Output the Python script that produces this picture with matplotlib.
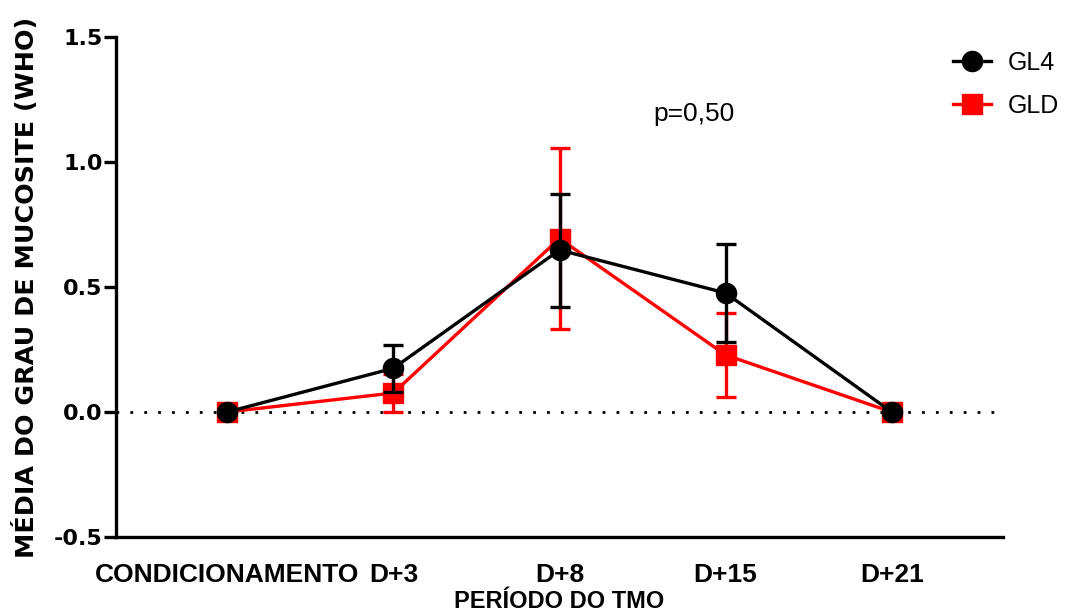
import matplotlib
matplotlib.use("Agg")
import matplotlib.pyplot as plt
from matplotlib.lines import Line2D
import numpy as np

categories = ["CONDICIONAMENTO", "D+3", "D+8", "D+15", "D+21"]
gl4_mean = [0.0, 0.175, 0.648, 0.476, 0.0]
gl4_err = [0.0, 0.095, 0.226, 0.195, 0.0]
gld_mean = [0.0, 0.076, 0.694, 0.228, 0.0]
gld_err = [0.0, 0.076, 0.362, 0.167, 0.0]
yticks = [-0.5, 0.0, 0.5, 1.0, 1.5]
ytick_labels = ["-0.5", "0.0", "0.5", "1.0", "1.5"]

fig = plt.figure(figsize=(10.7, 6.12), dpi=100)
ax = fig.add_axes([116/1070, 1-537/612, (1003-116)/1070, (537-37)/612])

x = np.arange(len(categories))

ax.axhline(0, color="black", lw=2, ls=(0, (1, 4)), zorder=1)

lw = 2.4
ax.errorbar(x, gld_mean, yerr=gld_err, color="#ff0000", marker="s", ms=14.5,
            lw=lw, elinewidth=lw, capsize=7, capthick=lw, zorder=3)
ax.errorbar(x, gl4_mean, yerr=gl4_err, color="black", marker="o", ms=14.5,
            lw=lw, elinewidth=lw, capsize=7, capthick=lw, zorder=4)

ax.set_xlim(-0.67, 4.67)
ax.set_ylim(-0.5, 1.5)
ax.set_xticks(x)
ax.set_xticklabels(categories, fontfamily=["Liberation Sans", "DejaVu Sans"],
                   fontweight="bold", fontsize=19)
ax.set_yticks(yticks)
ax.set_yticklabels(ytick_labels, fontfamily="DejaVu Sans", fontweight="bold", fontsize=16)
ax.tick_params(axis="x", length=0, pad=19)
ax.tick_params(axis="y", length=8.6, width=lw, pad=1)

for s in ["top", "right"]:
    ax.spines[s].set_visible(False)
for s in ["left", "bottom"]:
    ax.spines[s].set_linewidth(lw)

ax.set_ylabel("MÉDIA DO GRAU DE MUCOSITE (WHO)", fontfamily="DejaVu Sans",
              fontweight="bold", fontsize=18.3, labelpad=11)
ax.set_xlabel("PERÍODO DO TMO", fontfamily=["Liberation Sans", "DejaVu Sans"],
              fontweight="bold", fontsize=17, labelpad=2)

ax.text(2.81, 1.19, "p=0,50", fontfamily=["Liberation Sans", "DejaVu Sans"],
        fontsize=19, ha="center", va="center")

handles = [Line2D([], [], color="black", marker="o", ms=14.5, lw=lw),
           Line2D([], [], color="#ff0000", marker="s", ms=14.5, lw=lw)]
leg = ax.legend(handles, ["GL4", "GLD"], loc="upper left",
                bbox_to_anchor=(953/1070, 1-51/612),
                bbox_transform=fig.transFigure, frameon=False,
                prop={"family": ["Liberation Sans", "DejaVu Sans"], "size": 18},
                handlelength=1.5, handletextpad=0.7, labelspacing=0.75, borderpad=0,
                borderaxespad=0)

fig.savefig("out.png", dpi=100)
